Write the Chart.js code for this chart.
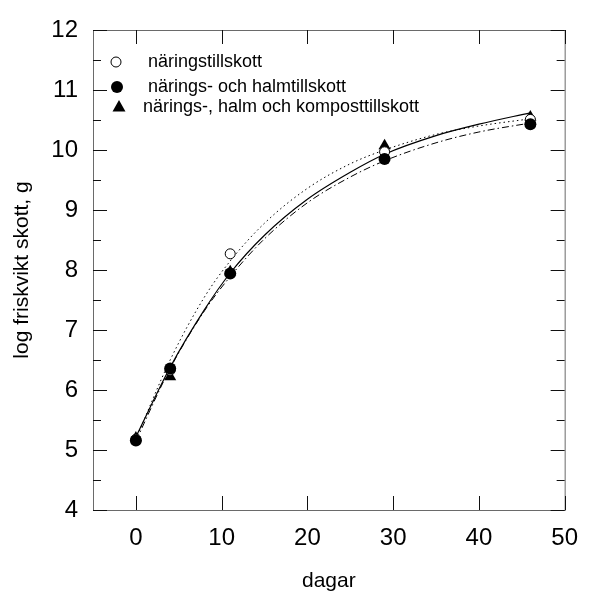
<!DOCTYPE html>
<html>
<head>
<meta charset="utf-8">
<script src="https://cdn.jsdelivr.net/npm/chart.js@4.4.1/dist/chart.umd.min.js"></script>
<style>
  html, body { margin: 0; padding: 0; background: #fff; }
  #wrap { width: 592px; height: 597px; }
</style>
</head>
<body>
<div id="wrap"><canvas id="chart" width="592" height="597"></canvas></div>
<script>
// measured values (dagar vs log friskvikt skott)
const days = [0, 4, 11, 29, 46];
const naring = [5.18, 6.33, 8.27, 9.97, 10.51];
const naringHalm = [5.16, 6.36, 7.94, 9.85, 10.43];
const naringHalmKompost = [5.2, 6.22, 7.97, 10.07, 10.55];

// fitted curves
const fitDays = [0, 4, 8, 11, 15, 20, 25, 29, 35, 40, 46];
const fitNaring = [5.18, 6.5, 7.55, 8.15, 8.78, 9.36, 9.77, 10.0, 10.26, 10.4, 10.52];
const fitNaringHalm = [5.15, 6.36, 7.32, 7.89, 8.52, 9.12, 9.55, 9.82, 10.12, 10.3, 10.45];
const fitNaringHalmKompost = [5.22, 6.38, 7.34, 7.95, 8.58, 9.18, 9.63, 9.93, 10.24, 10.43, 10.62];

const legendLabels = [
  'näringstillskott',
  'närings- och halmtillskott',
  'närings-, halm och komposttillskott',
];

const xTicks = [0, 10, 20, 30, 40, 50];
const yTicks = [4, 5, 6, 7, 8, 9, 10, 11, 12];
const yMinorTicks = [4.5, 5.5, 6.5, 7.5, 8.5, 9.5, 10.5, 11.5];

const FONT = "'Liberation Sans', Arial, sans-serif";

function toPoints(xs, ys) {
  return xs.map((x, i) => ({ x: x, y: ys[i] }));
}

const frameTicks = {
  id: 'frameTicks',
  afterDraw(chart) {
    const { ctx, chartArea: a } = chart;
    const x = chart.scales.x;
    const y = chart.scales.y;
    ctx.save();
    ctx.strokeStyle = '#6a6a6a';
    ctx.lineWidth = 1;
    ctx.strokeRect(a.left + 0.5, a.top + 0.5, a.right - a.left, a.bottom - a.top);

    ctx.strokeStyle = '#111';
    ctx.beginPath();
    xTicks.forEach((v) => {
      const px = Math.round(x.getPixelForValue(v)) + 0.5;
      ctx.moveTo(px, a.bottom);
      ctx.lineTo(px, a.bottom - 14);
      ctx.moveTo(px, a.top);
      ctx.lineTo(px, a.top + 14);
    });
    yTicks.forEach((v) => {
      const py = Math.round(y.getPixelForValue(v)) + 0.5;
      ctx.moveTo(a.left, py);
      ctx.lineTo(a.left + 14, py);
      ctx.moveTo(a.right, py);
      ctx.lineTo(a.right - 14, py);
    });
    yMinorTicks.forEach((v) => {
      const py = Math.round(y.getPixelForValue(v)) + 0.5;
      ctx.moveTo(a.left, py);
      ctx.lineTo(a.left + 8, py);
      ctx.moveTo(a.right, py);
      ctx.lineTo(a.right - 8, py);
    });
    ctx.stroke();
    ctx.restore();
  },
};

const insideLegend = {
  id: 'insideLegend',
  afterDraw(chart) {
    const { ctx, chartArea: a } = chart;
    const rows = [a.top + 32, a.top + 57, a.top + 77];
    const textX = [a.left + 55, a.left + 55, a.left + 50];
    ctx.save();
    ctx.fillStyle = '#000';
    ctx.strokeStyle = '#000';
    ctx.lineWidth = 1;

    // open circle
    ctx.beginPath();
    ctx.arc(a.left + 23, rows[0], 5, 0, Math.PI * 2);
    ctx.fillStyle = '#fff';
    ctx.fill();
    ctx.stroke();
    // filled circle
    ctx.fillStyle = '#000';
    ctx.beginPath();
    ctx.arc(a.left + 24, rows[1], 6, 0, Math.PI * 2);
    ctx.fill();
    // triangle
    const tx = a.left + 26;
    const ty = rows[2];
    ctx.beginPath();
    ctx.moveTo(tx, ty - 7);
    ctx.lineTo(tx + 6.5, ty + 4.5);
    ctx.lineTo(tx - 6.5, ty + 4.5);
    ctx.closePath();
    ctx.fill();

    ctx.font = '18px ' + FONT;
    ctx.textBaseline = 'middle';
    ctx.textAlign = 'left';
    legendLabels.forEach((t, i) => ctx.fillText(t, textX[i], rows[i]));
    ctx.restore();
  },
};

const ctx = document.getElementById('chart').getContext('2d');
new Chart(ctx, {
  type: 'scatter',
  data: {
    datasets: [
      {
        label: legendLabels[1],
        data: toPoints(days, naringHalm),
        pointStyle: 'circle',
        pointRadius: 6,
        backgroundColor: '#000',
        borderColor: '#000',
        borderWidth: 0,
        order: 1,
      },
      {
        label: legendLabels[0],
        data: toPoints(days, naring),
        pointStyle: 'circle',
        pointRadius: 5,
        backgroundColor: '#fff',
        borderColor: '#000',
        borderWidth: 1,
        order: 2,
      },
      {
        label: legendLabels[2],
        data: toPoints(days, naringHalmKompost),
        pointStyle: 'triangle',
        pointRadius: 7,
        backgroundColor: '#000',
        borderColor: '#000',
        borderWidth: 0,
        order: 3,
      },
      {
        label: 'fit ' + legendLabels[0],
        data: toPoints(fitDays, fitNaring),
        showLine: true,
        pointRadius: 0,
        borderColor: '#000',
        borderWidth: 1,
        borderDash: [1.5, 3],
        cubicInterpolationMode: 'monotone',
        order: 4,
      },
      {
        label: 'fit ' + legendLabels[1],
        data: toPoints(fitDays, fitNaringHalm),
        showLine: true,
        pointRadius: 0,
        borderColor: '#000',
        borderWidth: 1,
        borderDash: [7, 3, 1.5, 3],
        cubicInterpolationMode: 'monotone',
        order: 5,
      },
      {
        label: 'fit ' + legendLabels[2],
        data: toPoints(fitDays, fitNaringHalmKompost),
        showLine: true,
        pointRadius: 0,
        borderColor: '#000',
        borderWidth: 1.2,
        cubicInterpolationMode: 'monotone',
        order: 6,
      },
    ],
  },
  options: {
    responsive: false,
    animation: false,
    events: [],
    layout: { padding: { top: 30, right: 17, left: 0, bottom: 0 } },
    plugins: {
      legend: { display: false },
      tooltip: { enabled: false },
    },
    scales: {
      x: {
        type: 'linear',
        min: -5,
        max: 50,
        afterBuildTicks: (s) => { s.ticks = xTicks.map((v) => ({ value: v })); },
        afterFit: (s) => { s.height = 87; },
        grid: { display: false, drawTicks: false },
        border: { display: false },
        ticks: {
          color: '#000',
          padding: 14,
          maxRotation: 0,
          font: { family: FONT, size: 24 },
        },
        title: {
          display: true,
          text: 'dagar',
          color: '#000',
          font: { family: FONT, size: 21 },
          padding: { top: 0, bottom: 3 },
        },
      },
      y: {
        type: 'linear',
        min: 4,
        max: 12,
        afterBuildTicks: (s) => { s.ticks = yTicks.map((v) => ({ value: v })); },
        afterFit: (s) => { s.width = 93; },
        grid: { display: false, drawTicks: false },
        border: { display: false },
        ticks: {
          color: '#000',
          padding: 15,
          font: { family: FONT, size: 24 },
        },
        title: {
          display: true,
          text: 'log friskvikt skott, g',
          color: '#000',
          font: { family: FONT, size: 21 },
          padding: { top: 10, bottom: 0 },
        },
      },
    },
  },
  plugins: [frameTicks, insideLegend],
});
</script>
</body>
</html>
